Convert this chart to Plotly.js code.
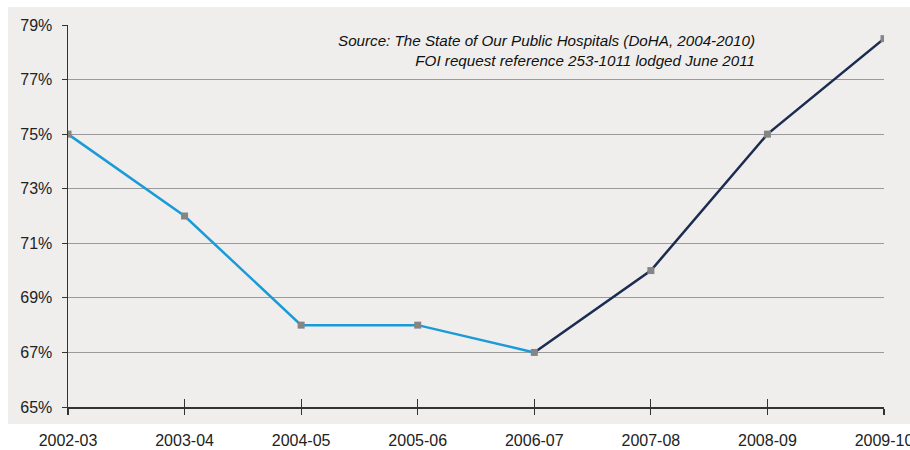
<!DOCTYPE html>
<html>
<head>
<meta charset="utf-8">
<script src="https://cdn.plot.ly/plotly-3.0.1.min.js"></script>
<style>html,body{margin:0;padding:0;background:#fff;}#chart{width:910px;height:450px;}</style>
</head>
<body>
<div id="chart"></div>
<script>
const categories = ["2002-03","2003-04","2004-05","2005-06","2006-07","2007-08","2008-09","2009-10"];
const values = [75, 72, 68, 68, 67, 70, 75, 78.5];
const yTickVals = [65, 67, 69, 71, 73, 75, 77, 79];
const yTickText = ["65%","67%","69%","71%","73%","75%","77%","79%"];
const splitIndex = 4;
const sourceLines = ["Source: The State of Our Public Hospitals (DoHA, 2004-2010)", "FOI request reference 253-1011 lodged June 2011"];

const traces = [
  {x: categories.slice(0, splitIndex + 1), y: values.slice(0, splitIndex + 1), type: 'scatter', mode: 'lines',
   line: {color: '#1b9ad8', width: 2.5}, hoverinfo: 'skip'},
  {x: categories.slice(splitIndex), y: values.slice(splitIndex), type: 'scatter', mode: 'lines',
   line: {color: '#1c2b50', width: 2.5}, hoverinfo: 'skip'},
  {x: categories, y: values, type: 'scatter', mode: 'markers',
   marker: {symbol: 'square', size: 7, color: '#858585'}, hoverinfo: 'skip'},
  // helper trace so the tick-only axis (x2/y2) gets drawn
  {x: categories, y: values, type: 'scatter', mode: 'markers', xaxis: 'x2', yaxis: 'y2',
   marker: {size: 1, color: 'rgba(0,0,0,0)'}, hoverinfo: 'skip'}
];

const font = {family: 'Liberation Sans, Arial, sans-serif', size: 16, color: '#222'};

const layout = {
  width: 910, height: 450,
  margin: {l: 68, r: 26, t: 25, b: 43},
  paper_bgcolor: '#ffffff',
  plot_bgcolor: 'rgba(0,0,0,0)',
  showlegend: false,
  font: font,
  xaxis: {
    type: 'category', categoryarray: categories, categoryorder: 'array',
    range: [0, 7], showgrid: false, zeroline: false,
    showline: true, linecolor: '#333', linewidth: 1.5,
    ticks: 'outside', ticklen: 6, tickcolor: '#333', tickwidth: 1.2,
    tickfont: font, ticklabelstandoff: 12, fixedrange: true
  },
  xaxis2: {
    type: 'category', categoryarray: categories, categoryorder: 'array',
    anchor: 'y2', domain: [0, 1],
    range: [0, 7], showgrid: false, zeroline: false, showline: false,
    ticks: 'inside', ticklen: 8, tickcolor: '#333', tickwidth: 1.2,
    showticklabels: false, fixedrange: true
  },
  yaxis2: {
    domain: [0, 0.01], anchor: 'x2', visible: false, showgrid: false, zeroline: false, fixedrange: true
  },
  yaxis: {
    range: [65, 79], tickvals: yTickVals, ticktext: yTickText,
    showgrid: true, gridcolor: '#9a9a9a', gridwidth: 1, zeroline: false,
    showline: true, linecolor: '#333', linewidth: 1.5,
    ticks: 'outside', ticklen: 5, tickcolor: '#333', tickwidth: 1,
    tickfont: font, ticklabelstandoff: 6, fixedrange: true
  },
  shapes: [
    {type: 'rect', xref: 'paper', yref: 'paper', x0: -0.0735, x1: 1.04, y0: -0.0445, y1: 1.047,
     fillcolor: '#efeeec', line: {width: 0}, layer: 'below'}
  ],
  annotations: [
    {xref: 'paper', yref: 'paper', x: (757 - 68) / 816, y: (407 - 30) / 382, xanchor: 'right', yanchor: 'top',
     align: 'right', showarrow: false,
     text: '<i>' + sourceLines.join('<br>') + '</i>',
     font: {family: 'Liberation Sans, Arial, sans-serif', size: 15.2, color: '#111'}}
  ]
};

Plotly.newPlot('chart', traces, layout, {displayModeBar: false, staticPlot: true});
</script>
</body>
</html>
